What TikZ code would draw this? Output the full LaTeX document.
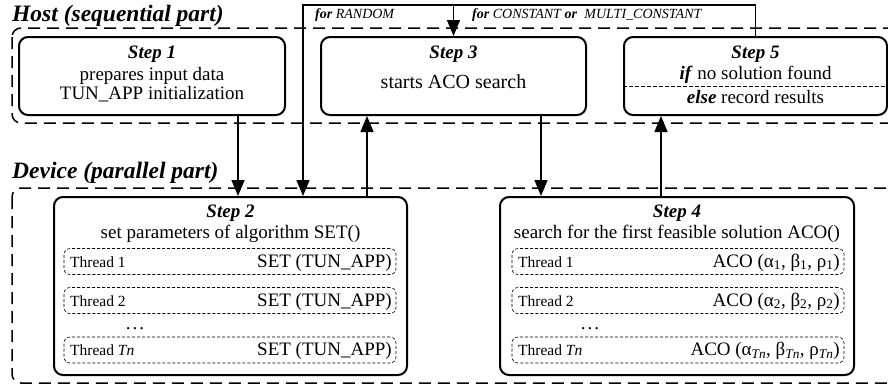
\documentclass[tikz,border=0pt]{standalone}
\usepackage{fontspec}
\setmainfont{Liberation Serif}
\usetikzlibrary{arrows.meta}
\begin{document}
\begin{tikzpicture}[x=1pt,y=-1pt,
  stepbox/.style={draw, line width=2pt, rounded corners=9pt, inner sep=0pt},
  zone/.style={draw, line width=1.5pt, dash pattern=on 12pt off 7pt, rounded corners=9pt},
  thr/.style={draw, line width=0.6pt, dash pattern=on 3pt off 2pt, rounded corners=6pt, inner sep=0pt, minimum width=332pt, minimum height=26pt},
  sepline/.style={line width=0.9pt, dash pattern=on 4pt off 2pt},
  conn/.style={line width=1.4pt},
  arr/.style={conn, -{Triangle[length=16pt,width=13pt]}},
  head/.style={font=\fontsize{23.5}{26}\selectfont\bfseries\itshape, anchor=base west, inner sep=0pt},
  ttl/.style={font=\fontsize{19}{22}\selectfont\bfseries\itshape, anchor=base, inner sep=0pt},
  txt/.style={font=\fontsize{19}{22}\selectfont, anchor=base, inner sep=0pt},
  lbl/.style={font=\fontsize{15.5}{18}\selectfont, anchor=base west, inner sep=0pt},
  rtxt/.style={font=\fontsize{19}{22}\selectfont, anchor=base east, inner sep=0pt},
  small/.style={font=\fontsize{14}{16}\selectfont\itshape, anchor=base west, inner sep=0pt}
]
\useasboundingbox (0,0) rectangle (888,386);
\clip (0,0) rectangle (888,386);

% zones
\draw[zone] (12,28) rectangle (920,123);
\draw[zone] (12,188) rectangle (920,383);
\node[head] (hosttitle) at (12,21) {Host (sequential part)};
\node[head] (devtitle) at (12,178) {Device (parallel part)};

% host steps
\node[stepbox, minimum width=266pt, minimum height=78pt] (s1) at (152,76) {};
\node[stepbox, minimum width=265pt, minimum height=78pt] (s3) at (453.5,76) {};
\node[stepbox, minimum width=263pt, minimum height=78pt] (s5) at (755.5,76) {};

\node[ttl] (s1t) at (152,58) {Step 1};
\node[txt] (s1a) at (152,80) {prepares input data};
\node[txt] (s1b) at (152,99) {TUN\_APP initialization};

\node[ttl] (s3t) at (453.5,58) {Step 3};
\node[txt, font=\fontsize{20}{24}\selectfont] (s3a) at (453.5,88) {starts ACO search};

\node[ttl] (s5t) at (755.5,58) {Step 5};
\node[txt] (s5a) at (755.5,79) {\textbf{\textit{if}} no solution found};
\draw[sepline] (s5.west |- 0,86) -- (s5.east |- 0,86);
\node[txt] (s5b) at (755.5,103) {\textbf{\textit{else}} record results};

% device steps
\node[stepbox, minimum width=353pt, minimum height=178pt] (s2) at (230.5,286) {};
\node[stepbox, minimum width=354pt, minimum height=178pt] (s4) at (677,286) {};

\node[ttl] (s2t) at (230.5,217) {Step 2};
\node[txt] (s2a) at (230.5,238) {set parameters of algorithm SET()};
\node[thr] (t21) at (230,261.5) {};
\node[thr] (t22) at (230,300.5) {};
\node[thr] (t2n) at (230,350) {};
\node[lbl] (t21l) at (70,267) {Thread 1};
\node[lbl] (t22l) at (70,306) {Thread 2};
\node[lbl] (t2nl) at (70,355.5) {Thread \textit{Tn}};
\node[rtxt] (t21r) at (392,267) {SET (TUN\_APP)};
\node[rtxt] (t22r) at (392,306) {SET (TUN\_APP)};
\node[rtxt] (t2nr) at (392,355.5) {SET (TUN\_APP)};
\node[txt] (d2) at (135,329) {.\hspace{2pt}.\hspace{2pt}.};

\node[ttl] (s4t) at (677,217) {Step 4};
\node[txt] (s4a) at (677,238) {search for the first feasible solution ACO()};
\node[thr] (t41) at (678,261.5) {};
\node[thr] (t42) at (678,300.5) {};
\node[thr] (t4n) at (678,350) {};
\node[lbl] (t41l) at (518,267) {Thread 1};
\node[lbl] (t42l) at (518,306) {Thread 2};
\node[lbl] (t4nl) at (518,355.5) {Thread \textit{Tn}};
\node[rtxt] (t41r) at (840,267) {ACO (α\textsubscript{1}, β\textsubscript{1}, ρ\textsubscript{1})};
\node[rtxt] (t42r) at (840,306) {ACO (α\textsubscript{2}, β\textsubscript{2}, ρ\textsubscript{2})};
\node[rtxt] (t4nr) at (840,355.5) {ACO (α\textsubscript{\textit{Tn}}, β\textsubscript{\textit{Tn}}, ρ\textsubscript{\textit{Tn}})};
\node[txt] (d4) at (590,329) {.\hspace{2pt}.\hspace{2pt}.};

% connectors
\coordinate (lt) at (303,5);
\draw[arr] ([xshift=86pt]s1.south) -- ([xshift=86pt]s1.south |- s2.north);
\draw[arr] (s5.north) |- (lt) -- (lt |- s2.north);
\draw[arr] (s3.north |- lt) -- (s3.north);
\draw[arr] ([xshift=136.5pt]s2.north) -- ([xshift=136.5pt]s2.north |- s3.south);
\draw[arr] ([xshift=87.5pt]s3.south) -- ([xshift=87.5pt]s3.south |- s4.north);
\draw[arr] ([xshift=-16pt]s4.north) -- ([xshift=-16pt]s4.north |- s5.south);

\node[small] (lrand) at (315,18) {\textbf{for} RANDOM};
\node[small] (lconst) at (472,18) {\textbf{for} CONSTANT \textbf{or}\hspace{4pt} MULTI\_CONSTANT};
\end{tikzpicture}
\end{document}
